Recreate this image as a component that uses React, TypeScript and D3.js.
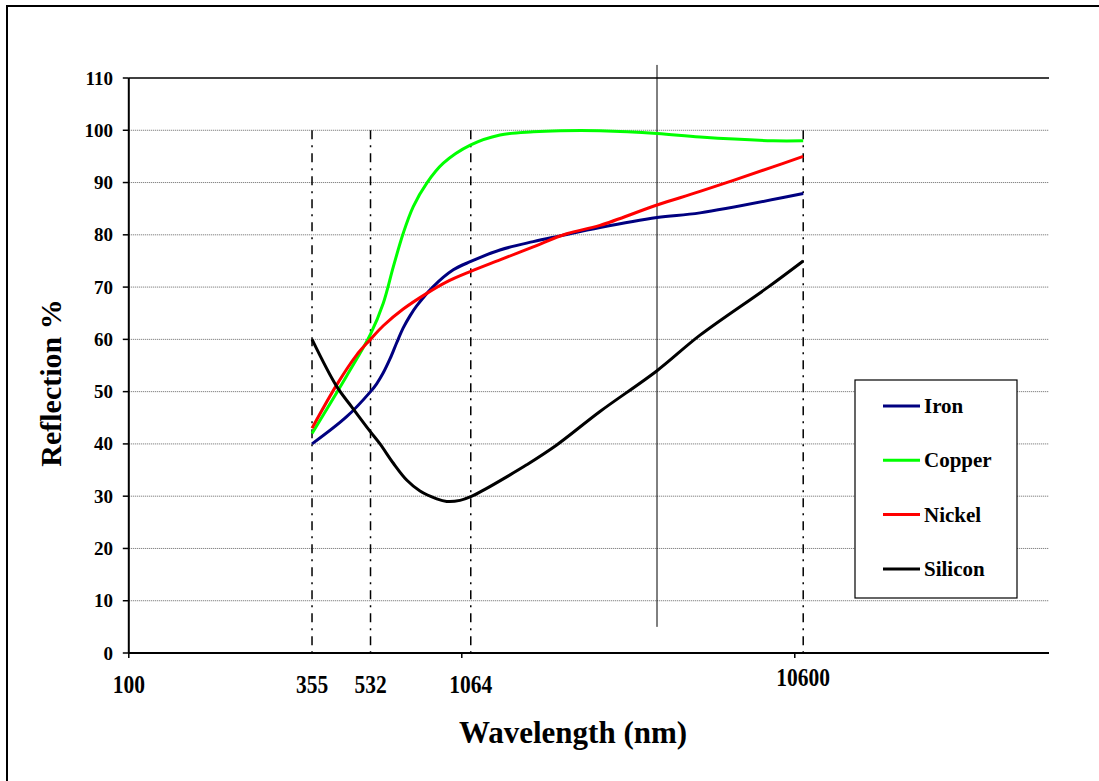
import React from "react";
import * as d3 from "d3";

const ironWl = [355, 451, 532, 555, 581, 609, 638, 667, 699, 732, 821, 943, 1064, 1302, 1639, 1972, 2600, 3857, 5193, 10600];
const ironR = [40, 45.2, 50, 51.5, 53.6, 56.3, 59.4, 62.2, 64.5, 66.4, 70.1, 73.3, 74.9, 77.1, 78.7, 79.8, 81.4, 83.3, 84.2, 87.9];

const copperWl = [355, 451, 532, 581, 623, 667, 715, 785, 880, 1064, 1302, 1639, 1972, 2600, 3857, 5193, 8600, 10600];
const copperR = [42, 53, 61, 66.9, 73.9, 80.3, 85.4, 89.9, 93.7, 97.2, 99.1, 99.7, 99.9, 99.9, 99.4, 98.7, 98.0, 98.0];

const nickelWl = [355, 421, 483, 532, 581, 667, 785, 901, 1064, 1302, 1639, 2065, 2600, 3857, 5193, 8600, 10600];
const nickelR = [43, 51.3, 57, 60, 62.6, 65.8, 68.8, 71, 73, 75.2, 77.7, 80.2, 81.8, 85.7, 88.3, 93, 95];

const siliconWl = [355, 421, 467, 532, 568, 623, 683, 749, 841, 901, 988, 1064, 1188, 1364, 1566, 1928, 2600, 3857, 5193, 8233, 10600];
const siliconR = [60, 51, 47.1, 42.3, 40.0, 36.3, 33.1, 31.0, 29.5, 29.0, 29.2, 29.9, 31.5, 33.7, 36.0, 39.8, 46.2, 54.0, 60.8, 69.8, 75];

const seriesNames = ["Iron", "Copper", "Nickel", "Silicon"];
const seriesColors = ["#000080", "#00ff00", "#ff0000", "#000000"];
const seriesWl = [ironWl, copperWl, nickelWl, siliconWl];
const seriesR = [ironR, copperR, nickelR, siliconR];

const yTicks = [0, 10, 20, 30, 40, 50, 60, 70, 80, 90, 100, 110];
const xLabels = [100, 355, 532, 1064, 10600];
const dropLines = [355, 532, 1064, 10600];
const xTicks = [100, 1000, 10000];
const markerWl = 3857;
const markerRange = [5, 112.5];

const W = 1099;
const H = 781;
const SERIF =
  "'Liberation Serif', 'DejaVu Serif', 'Noto Serif', Tinos, 'Nimbus Roman', FreeSerif, 'Times New Roman', Times, serif";

export default function App() {
  const x = d3.scaleLog().domain([100, 58000]).range([128.8, 1049]);
  const y = d3.scaleLinear().domain([0, 110]).range([653, 78]);
  const line = d3
    .line<[number, number]>()
    .x((d) => x(d[0]))
    .y((d) => y(d[1]))
    .curve(d3.curveCatmullRom.alpha(0.5));

  const x0 = x(100);
  const x1 = 1049;
  const ts = { fontFamily: SERIF, fontWeight: 700 } as React.CSSProperties;

  return (
    <svg width={W} height={H} style={{ position: "absolute", left: 0, top: 0, background: "#fff" }}>
      <rect x={0} y={0} width={W} height={H} fill="#fff" />
      <rect x={7} y={6} width={1200} height={900} fill="none" stroke="#000" strokeWidth={2} />

      {yTicks.slice(1, 11).map((t) => (
        <line key={"g" + t} x1={x0} x2={x1} y1={y(t)} y2={y(t)} stroke="#666" strokeWidth={1} strokeDasharray="1,1" />
      ))}
      <line x1={x0} x2={x1} y1={y(110)} y2={y(110)} stroke="#000" strokeWidth={1.6} />

      {dropLines.map((w) => (
        <line key={"d" + w} x1={x(w)} x2={x(w)} y1={y(100)} y2={y(0)} stroke="#000" strokeWidth={1.5} strokeDasharray="9,6,2,6" />
      ))}

      <line x1={x(markerWl)} x2={x(markerWl)} y1={y(markerRange[1])} y2={y(markerRange[0])} stroke="#000" strokeWidth={1} />

      {seriesNames.map((n, i) => (
        <path
          key={n}
          d={line(seriesWl[i].map((w, j) => [w, seriesR[i][j]] as [number, number])) || ""}
          fill="none"
          stroke={seriesColors[i]}
          strokeWidth={3}
          strokeLinejoin="round"
        />
      ))}

      <line x1={x0} x2={x0} y1={y(110)} y2={y(0)} stroke="#000" strokeWidth={2} />
      <line x1={x0} x2={x1} y1={y(0)} y2={y(0)} stroke="#000" strokeWidth={2} />
      {yTicks.map((t) => (
        <g key={"yt" + t}>
          <line x1={x0 - 6} x2={x0} y1={y(t)} y2={y(t)} stroke="#000" strokeWidth={1.5} />
          <text x={113} y={y(t) + 6.5} textAnchor="end" fontSize={19} style={ts}>
            {t}
          </text>
        </g>
      ))}
      {xTicks.map((t) => (
        <line key={"xt" + t} x1={x(t)} x2={x(t)} y1={y(0)} y2={y(0) + 5} stroke="#000" strokeWidth={1.5} />
      ))}
      {xLabels.map((t) => {
        const cx = x(t);
        const cy = t === 10600 ? 686 : 693;
        return (
          <text key={"xl" + t} transform={`translate(${cx},${cy}) scale(0.86,1)`} textAnchor="middle" fontSize={25} style={ts}>
            {t}
          </text>
        );
      })}

      <text x={573} y={743} textAnchor="middle" fontSize={31} style={ts}>
        Wavelength (nm)
      </text>
      <text transform="translate(61,383) rotate(-90)" textAnchor="middle" fontSize={30} style={ts}>
        Reflection %
      </text>

      <rect x={855} y={380} width={162} height={218} fill="#fff" stroke="#000" strokeWidth={1.2} />
      {seriesNames.map((n, i) => {
        const ly = 406 + i * 54.3;
        return (
          <g key={"lg" + n}>
            <line x1={883} x2={920} y1={ly} y2={ly} stroke={seriesColors[i]} strokeWidth={3} />
            <text x={924} y={ly + 7} fontSize={21} style={ts}>
              {n}
            </text>
          </g>
        );
      })}
    </svg>
  );
}
